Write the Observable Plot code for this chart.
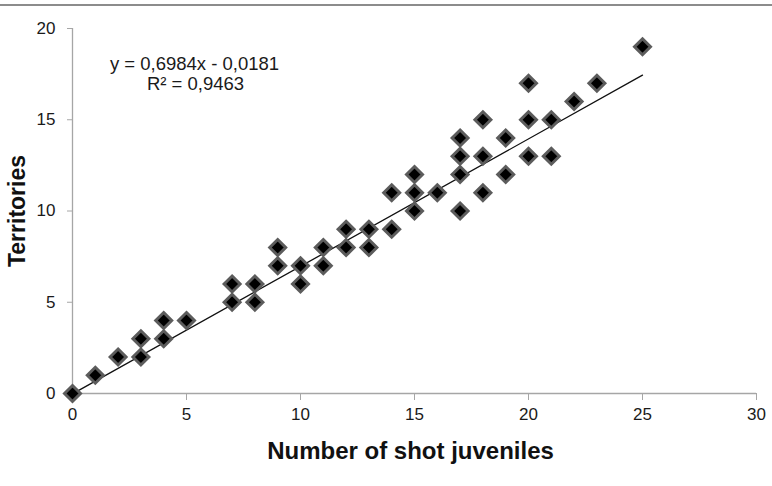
<!DOCTYPE html>
<html>
<head>
<meta charset="utf-8">
<script src="https://cdn.jsdelivr.net/npm/d3@7"></script>
<script src="https://cdn.jsdelivr.net/npm/@observablehq/plot@0.6"></script>
<style>
  html, body { margin: 0; padding: 0; background: #fff; }
  #wrap { position: relative; width: 772px; height: 486px; }
  #topline { position: absolute; left: 0; top: 4px; width: 772px; height: 2px; background: #8c8c8c; }
  #chart svg { display: block; }
</style>
</head>
<body>
<div id="wrap">
  <div id="chart"></div>
  <div id="topline"></div>
</div>
<script>
// Data
const shotJuveniles = [0, 1, 2, 3, 3, 4, 4, 5, 7, 7, 8, 8, 9, 9, 10, 10, 11, 11, 12, 12, 13, 13, 14, 14, 15, 15, 15, 16, 17, 17, 17, 17, 18, 18, 18, 19, 19, 20, 20, 20, 21, 21, 22, 23, 25];
const territories  = [0, 1, 2, 3, 2, 4, 3, 4, 6, 5, 6, 5, 8, 7, 7, 6, 8, 7, 9, 8, 9, 8, 11, 9, 12, 11, 10, 11, 14, 13, 12, 10, 15, 13, 11, 14, 12, 17, 15, 13, 15, 13, 16, 17, 19];
const xTicks = [0, 5, 10, 15, 20, 25, 30];
const yTicks = [0, 5, 10, 15, 20];
// Trend line as printed on the chart
const trendSlope = 0.6984;
const trendIntercept = -0.0181;
const equationLines = ["y = 0,6984x - 0,0181", "R² = 0,9463"];
const xTitle = "Number of shot juveniles";
const yTitle = "Territories";

const points = shotJuveniles.map((x, i) => ({x, y: territories[i]}));
const trend = d3.extent(shotJuveniles).map(x => ({x, y: trendSlope * x + trendIntercept}));

const chart = Plot.plot({
  width: 772,
  height: 486,
  marginLeft: 72,
  marginRight: 16,
  marginTop: 28,
  marginBottom: 93,
  style: {fontFamily: "'Liberation Sans', Arial, sans-serif", fontSize: "17px", color: "#1a1a1a", background: "#fff"},
  x: {domain: [0, 30]},
  y: {domain: [0, 20]},
  marks: [
    Plot.ruleY([0], {stroke: "#a6a6a6", strokeWidth: 1.3}),
    Plot.ruleX([0], {stroke: "#a6a6a6", strokeWidth: 1.3}),
    Plot.axisX({ticks: xTicks, tickSize: 7, tickPadding: 7, stroke: "#a6a6a6", strokeOpacity: 1, label: null, fontSize: 17, fill: "#1a1a1a"}),
    Plot.axisY({ticks: yTicks, tickSize: 5, tickPadding: 12, stroke: "#a6a6a6", strokeOpacity: 1, label: null, fontSize: 17, fill: "#1a1a1a"}),
    Plot.line(trend, {x: "x", y: "y", stroke: "#111", strokeWidth: 1.3}),
    Plot.dot(points, {x: "x", y: "y", symbol: "diamond2", r: 7.2, fill: "#000", stroke: "#5c5c5c", strokeWidth: 3, strokeLinejoin: "miter"}),
    Plot.text([equationLines[0]], {frameAnchor: "top-left", dx: 122, dy: 35.5, textAnchor: "middle", lineAnchor: "middle", fontSize: 18.5, fill: "#1a1a1a"}),
    Plot.text([equationLines[1]], {frameAnchor: "top-left", dx: 123, dy: 56, textAnchor: "middle", lineAnchor: "middle", fontSize: 18.5, fill: "#1a1a1a"}),
    Plot.text([xTitle], {frameAnchor: "bottom", dx: -4, dy: 58, textAnchor: "middle", lineAnchor: "middle", fontSize: 24, fontWeight: "bold", fill: "#111"}),
    Plot.text([yTitle], {frameAnchor: "left", dx: -55, rotate: -90, textAnchor: "middle", lineAnchor: "middle", fontSize: 23, fontWeight: "bold", fill: "#111"})
  ]
});
document.getElementById("chart").appendChild(chart);
</script>
</body>
</html>
